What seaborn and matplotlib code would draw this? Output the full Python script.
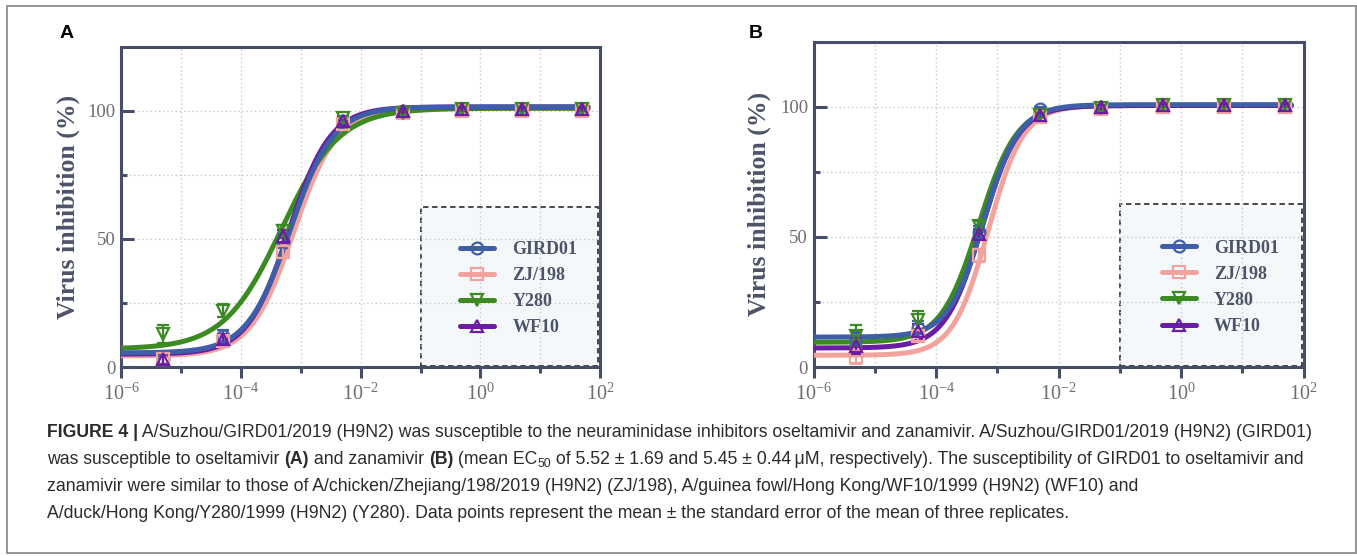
import numpy as np
import pandas as pd
import seaborn as sns
import matplotlib
matplotlib.use('Agg')
import matplotlib.pyplot as plt
from matplotlib import ticker, font_manager
from matplotlib.lines import Line2D
from matplotlib.patches import Rectangle

# ---------------------------------------------------------------
# data
# ---------------------------------------------------------------
strains = ['GIRD01', 'ZJ/198', 'Y280', 'WF10']
colors = ['#3f5ea8', '#f2a39e', '#3b8a22', '#6a1ca3']
markers = ['o', 's', 'v', '^']
conc = [5e-6, 5e-5, 5e-4, 5e-3, 5e-2, 5e-1, 5, 50]

# panel A - oseltamivir (mean, sem)
a_gird01 = [3, 12, 49, 96, 100, 100.5, 100.5, 100.5]
a_zj198 = [3, 10, 45, 95, 99, 100, 100, 100]
a_y280 = [13, 22, 53, 97, 99, 100.5, 100.5, 100.5]
a_wf10 = [3, 11, 51, 96, 100, 100.5, 100.5, 100.5]
a_gird01_sem = [2, 2.5, 2.5, 1.5, 1, 0.5, 0.5, 0.5]
a_zj198_sem = [2, 2, 2.5, 1.5, 1, 0.5, 0.5, 0.5]
a_y280_sem = [3.5, 2.5, 2.5, 1, 1, 0.5, 0.5, 0.5]
a_wf10_sem = [2, 2, 2.5, 1.5, 1, 0.5, 0.5, 0.5]

# panel B - zanamivir (mean, sem)
b_gird01 = [11, 15, 52, 99, 100, 100.5, 100.5, 100.5]
b_zj198 = [4, 12, 43, 96, 99, 100, 100, 100]
b_y280 = [12, 18, 54, 97, 99.5, 100.5, 100.5, 100.5]
b_wf10 = [8, 14, 51, 97, 100, 100.5, 100.5, 100.5]
b_gird01_sem = [2.5, 2.5, 2, 1, 1, 0.5, 0.5, 0.5]
b_zj198_sem = [3, 2, 2.5, 1.5, 1, 0.5, 0.5, 0.5]
b_y280_sem = [4, 3.5, 2, 1, 1, 0.5, 0.5, 0.5]
b_wf10_sem = [3, 2.5, 2, 1, 1, 0.5, 0.5, 0.5]

# fitted dose-response curves: bottom, top, logEC50, hill slope
a_fit_gird01 = [5.5, 101.5, -3.18, 1.2]
a_fit_zj198 = [4.3, 101.0, -3.12, 1.2]
a_fit_y280 = [7.0, 101.0, -3.32, 0.9]
a_fit_wf10 = [5.0, 101.5, -3.20, 1.25]
b_fit_gird01 = [11.5, 100.8, -3.22, 1.5]
b_fit_zj198 = [4.5, 100.5, -3.15, 1.5]
b_fit_y280 = [9.5, 100.5, -3.30, 1.4]
b_fit_wf10 = [7.3, 100.5, -3.25, 1.45]

panels = {
    'A': dict(means=[a_gird01, a_zj198, a_y280, a_wf10],
              sems=[a_gird01_sem, a_zj198_sem, a_y280_sem, a_wf10_sem],
              fits=[a_fit_gird01, a_fit_zj198, a_fit_y280, a_fit_wf10]),
    'B': dict(means=[b_gird01, b_zj198, b_y280, b_wf10],
              sems=[b_gird01_sem, b_zj198_sem, b_y280_sem, b_wf10_sem],
              fits=[b_fit_gird01, b_fit_zj198, b_fit_y280, b_fit_wf10]),
}

caption_lines = [
    [('FIGURE 4 |', 'bold'),
     (' A/Suzhou/GIRD01/2019 (H9N2) was susceptible to the neuraminidase inhibitors oseltamivir and zanamivir. '
      'A/Suzhou/GIRD01/2019 (H9N2) (GIRD01)', 'normal')],
    [('was susceptible to oseltamivir ', 'normal'), ('(A)', 'bold'), (' and zanamivir ', 'normal'),
     ('(B)', 'bold'), (' (mean EC', 'normal'), ('50', 'sub'),
     (' of 5.52 \u00b1 1.69 and 5.45 \u00b1 0.44\u2009\u03bcM, respectively). The susceptibility of GIRD01 '
      'to oseltamivir and', 'normal')],
    [('zanamivir were similar to those of A/chicken/Zhejiang/198/2019 (H9N2) (ZJ/198), A/guinea fowl/Hong '
      'Kong/WF10/1999 (H9N2) (WF10) and', 'normal')],
    [('A/duck/Hong Kong/Y280/1999 (H9N2) (Y280). Data points represent the mean \u00b1 the standard error '
      'of the mean of three replicates.', 'normal')],
]

# ---------------------------------------------------------------
# style
# ---------------------------------------------------------------
sns.set_theme(style='white')
plt.rcParams['font.family'] = ['Liberation Serif', 'DejaVu Serif']

installed = {f.name for f in font_manager.fontManager.ttflist}
cap_font = 'Liberation Sans Narrow' if 'Liberation Sans Narrow' in installed else 'Liberation Sans'

W, H = 1357, 556
fig = plt.figure(figsize=(W / 100, H / 100), dpi=100)
fig.patch.set_facecolor('white')

spine_col = '#454d68'
tick_col = '#6e6e6e'
label_col = '#4d5368'

axA = fig.add_axes([121.4 / W, 1 - 367 / H, 478.6 / W, 320.3 / H])
axB = fig.add_axes([813.6 / W, 1 - 367 / H, 490.0 / W, 325.3 / H])


def even_decade(v, pos):
    e = int(round(np.log10(v)))
    return r'$\mathregular{10^{%d}}$' % e


for key, ax in [('A', axA), ('B', axB)]:
    p = panels[key]
    ax.set_xscale('log')

    # fitted curves via seaborn
    xs = np.logspace(-6, 1.8, 300)
    rows = []
    for s, (bot, top, lec, hill) in zip(strains, p['fits']):
        ys = bot + (top - bot) / (1 + 10 ** ((lec - np.log10(xs)) * hill))
        rows.append(pd.DataFrame({'conc': xs, 'inhib': ys, 'strain': s}))
    curves = pd.concat(rows, ignore_index=True)
    sns.lineplot(data=curves, x='conc', y='inhib', hue='strain',
                 hue_order=['ZJ/198', 'Y280', 'WF10', 'GIRD01'],
                 palette=dict(zip(strains, colors)), estimator=None, sort=False,
                 lw=3.6, legend=False, ax=ax, zorder=3)

    # data points with error bars
    for s, c, m, mean, sem in zip(strains, colors, markers, p['means'], p['sems']):
        ax.errorbar(conc, mean, yerr=sem, fmt=m, color=c, ecolor=c, mfc='none', ms=8.5,
                    mew=1.6, elinewidth=1.6, capsize=4, capthick=1.6, zorder=4, clip_on=False)

    ax.set_xlim(1e-6, 1e2)
    ax.set_ylim(0, 125)
    ax.xaxis.set_major_locator(ticker.FixedLocator([1e-6, 1e-4, 1e-2, 1, 1e2]))
    ax.xaxis.set_minor_locator(ticker.FixedLocator([1e-5, 1e-3, 1e-1, 1e1]))
    ax.xaxis.set_major_formatter(ticker.FuncFormatter(even_decade))
    ax.xaxis.set_minor_formatter(ticker.NullFormatter())
    ax.yaxis.set_major_locator(ticker.FixedLocator([0, 50, 100]))
    ax.yaxis.set_minor_locator(ticker.FixedLocator([25, 75]))
    ax.yaxis.set_major_formatter(ticker.FormatStrFormatter('%d'))

    ax.set_axisbelow(True)
    ax.grid(True, which='both', axis='both', color='#c9c9c9', ls=(0, (1, 2)), lw=1.0)

    for sp in ax.spines.values():
        sp.set_color(spine_col)
        sp.set_linewidth(2.2)
        sp.set_visible(True)

    ax.tick_params(axis='x', which='major', direction='out', length=8, width=2.2,
                   color=spine_col, labelsize=14.5, labelcolor=tick_col, pad=4, bottom=True)
    ax.tick_params(axis='x', which='minor', direction='out', length=4, width=2.2,
                   color=spine_col, bottom=True)
    ax.tick_params(axis='y', which='major', direction='in', length=9, width=2.2,
                   color=spine_col, labelsize=13.5, labelcolor=tick_col, pad=4, left=True)
    ax.tick_params(axis='y', which='minor', direction='in', length=4.5, width=2.2,
                   color=spine_col, left=True)

    ax.set_xlabel('')
    ax.set_ylabel('Virus inhibition (%)', fontsize=18.5, fontweight='bold', color=label_col)
    ax.yaxis.set_label_coords(-0.087, 0.5)

    # dashed legend panel
    ax.add_patch(Rectangle((0.625, 0.004), 0.371, 0.497, transform=ax.transAxes,
                           facecolor='#f4f8fb', edgecolor='#3a3a3a', ls=(0, (3, 2)),
                           lw=1.3, zorder=0.3))
    handles = [Line2D([], [], color=c, lw=3.6, marker=m, ms=8.5, mfc='none', mew=1.6)
               for c, m in zip(colors, markers)]
    ax.legend(handles, strains, loc='center', bbox_to_anchor=(0.83, 0.245), frameon=False,
              prop={'family': 'Liberation Serif', 'weight': 'bold', 'size': 13},
              labelcolor=label_col, handlelength=1.9, handletextpad=1.0, labelspacing=0.5)

# panel letters
fig.text(67 / W, 1 - 33 / H, 'A', fontsize=14, fontweight='bold', family='Liberation Sans',
         ha='center', va='center', color='black')
fig.text(756 / W, 1 - 33 / H, 'B', fontsize=14, fontweight='bold', family='Liberation Sans',
         ha='center', va='center', color='black')

# outer frame
fig.add_artist(Rectangle((7 / W, 1 - 553 / H), 1349 / W, 547 / H, transform=fig.transFigure,
                         fill=False, ec='#8c8c8c', lw=1.3))

# ---------------------------------------------------------------
# caption, drawn piece by piece so bold parts and subscript fit in
# ---------------------------------------------------------------
renderer = fig.canvas.get_renderer()


def text_width(txt, size, weight):
    t1 = fig.text(0, 0, '|' + txt + '|', fontsize=size, fontweight=weight, family=cap_font)
    t2 = fig.text(0, 0, '||', fontsize=size, fontweight=weight, family=cap_font)
    w = t1.get_window_extent(renderer).width - t2.get_window_extent(renderer).width
    t1.remove()
    t2.remove()
    return w


def line_width(line, size):
    w = 0
    for txt, kind in line:
        if kind == 'sub':
            w += text_width(txt, size * 0.7, 'normal')
        else:
            w += text_width(txt, size, kind)
    return w


base = 10
size = base * 1263 / line_width(caption_lines[0], base)
baselines = [437, 464, 491, 518]
for line, yb in zip(caption_lines, baselines):
    x = 47
    for txt, kind in line:
        if kind == 'sub':
            fs, wt, y = size * 0.7, 'normal', yb + 3
        else:
            fs, wt, y = size, kind, yb
        fig.text(x / W, 1 - y / H, txt, fontsize=fs, fontweight=wt, family=cap_font,
                 color='#2b2b2b', ha='left', va='baseline')
        x += text_width(txt, fs, wt)

fig.savefig('out.png', dpi=100)
